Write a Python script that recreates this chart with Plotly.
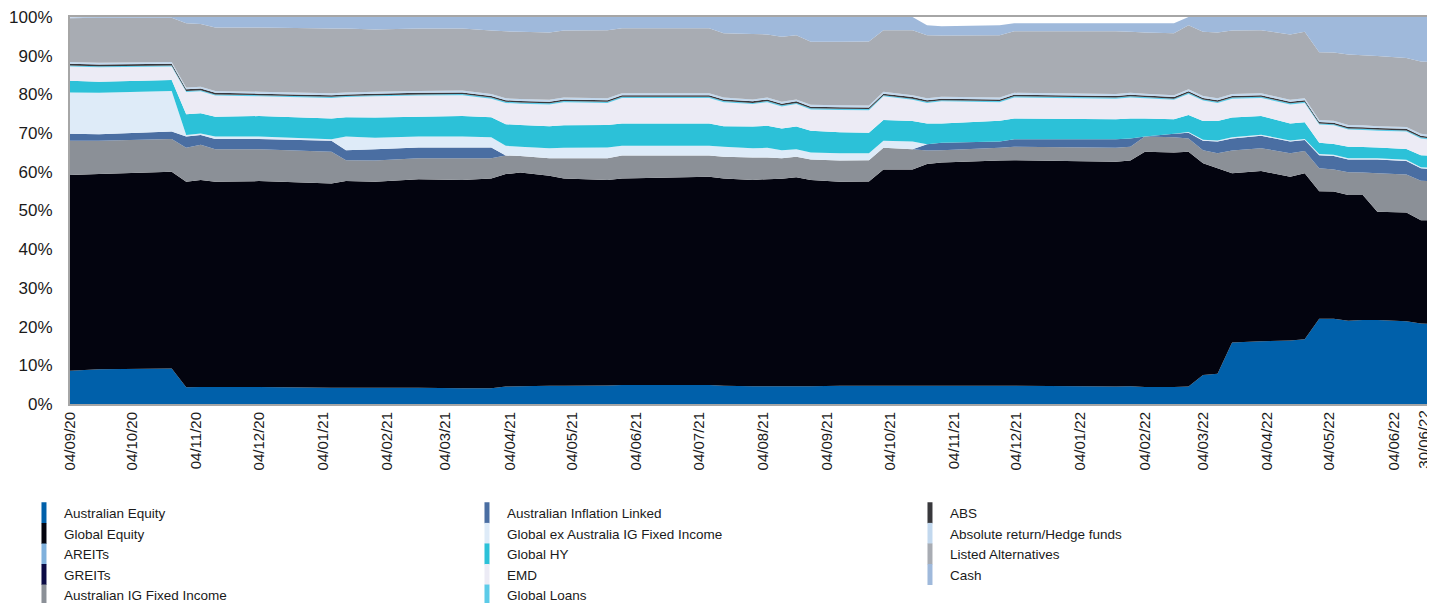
import plotly.graph_objects as go

# ---- data (percent of portfolio) ----
dates = ["2020-09-04", "2020-09-18", "2020-10-23", "2020-10-30", "2020-11-06", "2020-11-13",
         "2020-12-04", "2021-01-08", "2021-01-15", "2021-01-29", "2021-02-19", "2021-03-12",
         "2021-03-26", "2021-04-02", "2021-04-09", "2021-04-23", "2021-04-30", "2021-05-21",
         "2021-05-28", "2021-07-09", "2021-07-16", "2021-07-30", "2021-08-06", "2021-08-13",
         "2021-08-20", "2021-08-27", "2021-09-10", "2021-09-24", "2021-10-01", "2021-10-15",
         "2021-10-22", "2021-10-29", "2021-11-26", "2021-12-03", "2022-01-21", "2022-01-28",
         "2022-02-04", "2022-02-18", "2022-02-25", "2022-03-04", "2022-03-11", "2022-03-18",
         "2022-04-01", "2022-04-15", "2022-04-22", "2022-04-29", "2022-05-06", "2022-05-13",
         "2022-05-20", "2022-05-27", "2022-06-10", "2022-06-17", "2022-06-30"]

australian_equity = [8.6, 9.0, 9.2, 4.3, 4.4, 4.4, 4.4, 4.2, 4.2, 4.2, 4.2, 4.1, 4.1, 4.5, 4.6, 4.7, 4.7, 4.8,
                     4.9, 4.9, 4.7, 4.6, 4.6, 4.6, 4.6, 4.6, 4.7, 4.7, 4.7, 4.7, 4.7, 4.7, 4.7, 4.7, 4.5, 4.6,
                     4.4, 4.4, 4.5, 7.5, 7.8, 15.9, 16.2, 16.4, 16.7, 22.0, 22.0, 21.5, 21.7, 21.7, 21.4, 20.8, 20.6]
global_equity = [50.6, 50.4, 50.8, 53.1, 53.5, 53.0, 53.2, 52.8, 53.4, 53.2, 53.9, 53.8, 54.2, 54.9, 55.2, 54.3,
                 53.6, 53.1, 53.4, 53.8, 53.6, 53.3, 53.5, 53.6, 54.0, 53.3, 52.7, 52.8, 55.9, 55.9, 57.3, 57.7,
                 58.2, 58.3, 58.1, 58.3, 60.8, 60.6, 60.7, 54.7, 53.1, 43.7, 44.0, 42.3, 42.9, 33.0, 32.9, 32.5,
                 32.3, 28.0, 28.1, 26.7, 26.8]
areits = [0.0, 0.0, 0.0, 0.0, 0.0, 0.0, 0.0, 0.0, 0.0, 0.0, 0.0, 0.0, 0.0, 0.0, 0.0, 0.0, 0.0, 0.0,
          0.0, 0.0, 0.0, 0.0, 0.0, 0.0, 0.0, 0.0, 0.0, 0.0, 0.0, 0.0, 0.0, 0.0, 0.0, 0.0, 0.0, 0.0,
          0.0, 0.0, 0.0, 0.0, 0.0, 0.0, 0.0, 0.0, 0.0, 0.0, 0.0, 0.0, 0.0, 0.0, 0.0, 0.0, 0.0]
greits = [0.0, 0.0, 0.0, 0.0, 0.0, 0.0, 0.0, 0.0, 0.0, 0.0, 0.0, 0.0, 0.0, 0.0, 0.0, 0.0, 0.0, 0.0,
          0.0, 0.0, 0.0, 0.0, 0.0, 0.0, 0.0, 0.0, 0.0, 0.0, 0.0, 0.0, 0.0, 0.0, 0.0, 0.0, 0.0, 0.0,
          0.0, 0.0, 0.0, 0.0, 0.0, 0.0, 0.0, 0.0, 0.0, 0.0, 0.0, 0.0, 0.0, 0.0, 0.0, 0.0, 0.0]
australian_ig_fi = [8.8, 8.6, 8.5, 8.8, 9.1, 8.4, 8.2, 8.2, 5.4, 5.5, 5.4, 5.6, 5.2, 4.8, 4.3, 4.5, 5.2, 5.6,
                    5.9, 5.5, 5.6, 5.8, 5.6, 5.3, 5.3, 5.3, 5.5, 5.5, 5.6, 5.2, 3.5, 3.2, 3.3, 3.5, 3.6, 3.6,
                    3.9, 3.9, 3.4, 3.4, 3.9, 5.9, 5.9, 6.1, 5.8, 5.9, 5.7, 5.9, 5.8, 9.9, 9.8, 10.2, 10.0]
australian_inflation_linked = [1.8, 1.7, 1.9, 2.9, 2.5, 2.7, 2.7, 2.8, 2.6, 2.9, 2.8, 2.8, 2.8, 0.0, 0.0, 0.0,
                               0.0, 0.0, 0.0, 0.0, 0.0, 0.0, 0.0, 0.0, 0.0, 0.0, 0.0, 0.0, 0.0, 0.0, 1.6, 1.9,
                               1.6, 1.9, 2.2, 2.1, 0.0, 0.9, 1.5, 2.4, 3.0, 3.1, 3.2, 3.0, 2.8, 3.4, 3.5, 3.3,
                               3.4, 3.6, 3.5, 3.2, 3.1]
global_ex_aus_ig_fi = [10.7, 10.7, 10.5, 0.4, 0.4, 0.6, 0.6, 0.4, 3.5, 3.0, 2.8, 2.8, 2.6, 2.5, 2.4, 2.6, 2.7,
                       2.8, 2.5, 2.5, 2.6, 2.4, 2.5, 2.1, 1.9, 1.8, 1.9, 1.8, 1.8, 2.0, 0.0, 0.0, 0.0, 0.0,
                       0.0, 0.0, 0.0, 0.0, 0.2, 0.3, 0.3, 0.3, 0.3, 0.3, 0.3, 0.3, 0.3, 0.3, 0.3, 0.3, 0.3,
                       0.3, 0.3]
global_hy = [3.0, 2.9, 2.8, 5.4, 5.2, 5.1, 5.3, 5.4, 5.0, 5.2, 5.1, 5.3, 5.2, 5.6, 5.6, 5.7, 5.8, 5.8, 5.8, 5.8,
             5.3, 5.6, 5.7, 5.6, 5.9, 5.6, 5.4, 5.3, 5.4, 5.3, 5.4, 5.0, 5.4, 5.4, 5.2, 5.2, 4.7, 3.8, 4.4, 4.8,
             5.0, 5.1, 4.8, 4.4, 4.3, 2.9, 2.8, 3.0, 2.9, 2.8, 2.8, 3.1, 3.1]
emd = [3.7, 3.7, 3.5, 5.7, 5.7, 5.5, 5.1, 5.3, 5.2, 5.5, 5.5, 5.4, 4.8, 5.5, 5.5, 5.6, 6.0, 5.7, 6.6, 6.6,
       6.2, 5.8, 6.1, 5.7, 5.8, 5.5, 5.8, 5.8, 6.1, 5.5, 5.3, 5.7, 4.8, 5.4, 5.3, 5.4, 5.2, 5.0, 5.4, 5.3,
       4.7, 4.9, 4.7, 4.9, 5.0, 4.7, 4.8, 4.4, 4.4, 4.3, 4.5, 4.3, 4.0]
global_loans = [0.3, 0.3, 0.3, 0.3, 0.3, 0.3, 0.3, 0.3, 0.3, 0.3, 0.3, 0.3, 0.3, 0.3, 0.3, 0.3, 0.3, 0.3,
                0.3, 0.3, 0.3, 0.3, 0.3, 0.3, 0.3, 0.3, 0.3, 0.3, 0.3, 0.3, 0.3, 0.3, 0.3, 0.3, 0.3, 0.3,
                0.3, 0.3, 0.3, 0.3, 0.3, 0.3, 0.3, 0.3, 0.3, 0.3, 0.3, 0.3, 0.3, 0.3, 0.3, 0.3, 0.3]
abs_ = [0.4, 0.4, 0.4, 0.4, 0.4, 0.4, 0.4, 0.4, 0.4, 0.4, 0.4, 0.4, 0.4, 0.4, 0.4, 0.4, 0.4, 0.4,
        0.4, 0.4, 0.4, 0.4, 0.4, 0.4, 0.4, 0.4, 0.4, 0.4, 0.4, 0.4, 0.4, 0.4, 0.4, 0.4, 0.4, 0.4,
        0.4, 0.4, 0.4, 0.4, 0.4, 0.4, 0.4, 0.4, 0.4, 0.4, 0.4, 0.4, 0.4, 0.4, 0.4, 0.4, 0.4]
absolute_return = [0.5, 0.5, 0.5, 0.5, 0.5, 0.5, 0.5, 0.5, 0.5, 0.5, 0.5, 0.5, 0.5, 0.5, 0.5, 0.5, 0.5, 0.5,
                   0.5, 0.5, 0.5, 0.5, 0.5, 0.5, 0.5, 0.5, 0.5, 0.5, 0.5, 0.5, 0.5, 0.5, 0.5, 0.5, 0.5, 0.5,
                   0.5, 0.5, 0.5, 0.5, 0.5, 0.5, 0.5, 0.5, 0.5, 0.5, 0.5, 0.5, 0.5, 0.5, 0.5, 0.5, 0.5]
listed_alternatives = [11.3, 11.6, 11.4, 16.6, 16.2, 16.4, 16.6, 16.7, 16.5, 16.1, 16.1, 16.0, 16.4, 17.3, 17.4,
                       17.4, 17.3, 17.6, 16.8, 16.8, 16.6, 16.9, 16.3, 16.8, 16.6, 16.3, 16.4, 16.6, 15.9, 16.8,
                       16.3, 15.8, 16.1, 15.9, 16.2, 15.8, 15.8, 16.0, 16.6, 16.6, 17.0, 16.4, 16.3, 16.9, 17.2,
                       17.5, 17.6, 18.2, 18.1, 18.1, 17.8, 18.7, 19.0]
cash = [0.2, 0.2, 0.2, 1.6, 1.8, 2.7, 2.7, 3.0, 3.0, 3.2, 3.0, 3.0, 3.5, 3.7, 3.8, 4.0, 3.5, 3.4, 2.9, 2.9,
        4.2, 4.4, 4.5, 5.1, 4.7, 6.4, 6.4, 6.3, 3.4, 3.4, 2.6, 2.4, 2.6, 2.1, 2.1, 2.2, 2.4, 2.6, 2.1, 3.8,
        4.0, 3.5, 3.4, 4.5, 3.8, 9.1, 9.2, 9.7, 9.9, 10.1, 10.6, 11.5, 11.9]

tick_dates = ["2020-09-04", "2020-10-04", "2020-11-04", "2020-12-04", "2021-01-04", "2021-02-04",
              "2021-03-04", "2021-04-04", "2021-05-04", "2021-06-04", "2021-07-04", "2021-08-04",
              "2021-09-04", "2021-10-04", "2021-11-04", "2021-12-04", "2022-01-04", "2022-02-04",
              "2022-03-04", "2022-04-04", "2022-05-04", "2022-06-04"]
last_label = "30/06/22"
y_ticks = [0, 10, 20, 30, 40, 50, 60, 70, 80, 90, 100]
y_labels = ["0%", "10%", "20%", "30%", "40%", "50%", "60%", "70%", "80%", "90%", "100%"]

# (name, values, colour, legend rank) in stacking order, bottom to top
series = [
    ("Australian Equity", australian_equity, "#0060aa", 1),
    ("Global Equity", global_equity, "#03040f", 4),
    ("AREITs", areits, "#7fb0dc", 7),
    ("GREITs", greits, "#0b0b45", 10),
    ("Australian IG Fixed Income", australian_ig_fi, "#8b9097", 13),
    ("Australian Inflation Linked", australian_inflation_linked, "#4a6ea2", 2),
    ("Global ex Australia IG Fixed Income", global_ex_aus_ig_fi, "#deebf8", 5),
    ("Global HY", global_hy, "#2cc1d8", 8),
    ("EMD", emd, "#ecebf5", 11),
    ("Global Loans", global_loans, "#5ccbe8", 14),
    ("ABS", abs_, "#38383c", 3),
    ("Absolute return/Hedge funds", absolute_return, "#c2d8ee", 6),
    ("Listed Alternatives", listed_alternatives, "#a8acb3", 9),
    ("Cash", cash, "#9fb9db", 12),
]

fig = go.Figure()
for name, vals, col, rank in series:
    fig.add_trace(go.Scatter(x=dates, y=vals, name=name, stackgroup="one", mode="none",
                             fillcolor=col, showlegend=False, hoverinfo="x+y+name"))
# legend entries (narrow vertical swatches)
for name, vals, col, rank in series:
    fig.add_trace(go.Scatter(x=[None], y=[None], name=name, mode="markers", legendrank=rank,
                             marker=dict(symbol="line-ns", size=15, color=col,
                                         line=dict(color=col, width=7)),
                             showlegend=True))

FONT = "Arial, Liberation Sans, sans-serif"
# the page body has an 8px margin, so the figure is 8px smaller than the window
fig.update_layout(
    width=1427, height=595,
    margin=dict(l=62, r=0, t=9, b=199, autoexpand=False),
    paper_bgcolor="white", plot_bgcolor="white",
    font=dict(family=FONT, color="#1a1a1a"),
    showlegend=True,
    legend=dict(orientation="h", xref="container", yref="container",
                x=0.0112, y=0.1772, xanchor="left", yanchor="top",
                entrywidth=398, entrywidthmode="pixels", traceorder="normal",
                font=dict(family=FONT, size=13.5, color="#1a1a1a"), bgcolor="rgba(0,0,0,0)",
                itemclick=False, tracegroupgap=0),
    xaxis=dict(type="date", range=["2020-09-04", "2022-06-23 19:00"],
               tickvals=tick_dates, tickformat="%d/%m/%y", tickangle=-90,
               tickfont=dict(size=15, color="#1a1a1a"), ticks="",
               showline=True, linecolor="#a6a6a6", linewidth=2, mirror=True,
               showgrid=False, zeroline=False, automargin=False),
    yaxis=dict(range=[0, 100], tickmode="array", tickvals=y_ticks, ticktext=y_labels,
               tickfont=dict(size=17, color="#1a1a1a"), ticks="", ticklabelstandoff=12,
               ticklabeloverflow="allow",
               showline=True, linecolor="#a6a6a6", linewidth=2, mirror=False,
               showgrid=False, zeroline=False, automargin=False),
    annotations=[dict(text=last_label, xref="paper", yref="paper",
                      x=(1424 - 70) / 1365, y=-0.012, xanchor="center", yanchor="top",
                      textangle=-90, showarrow=False,
                      font=dict(family=FONT, size=15, color="#1a1a1a"))],
)

fig.write_html("out.html")
